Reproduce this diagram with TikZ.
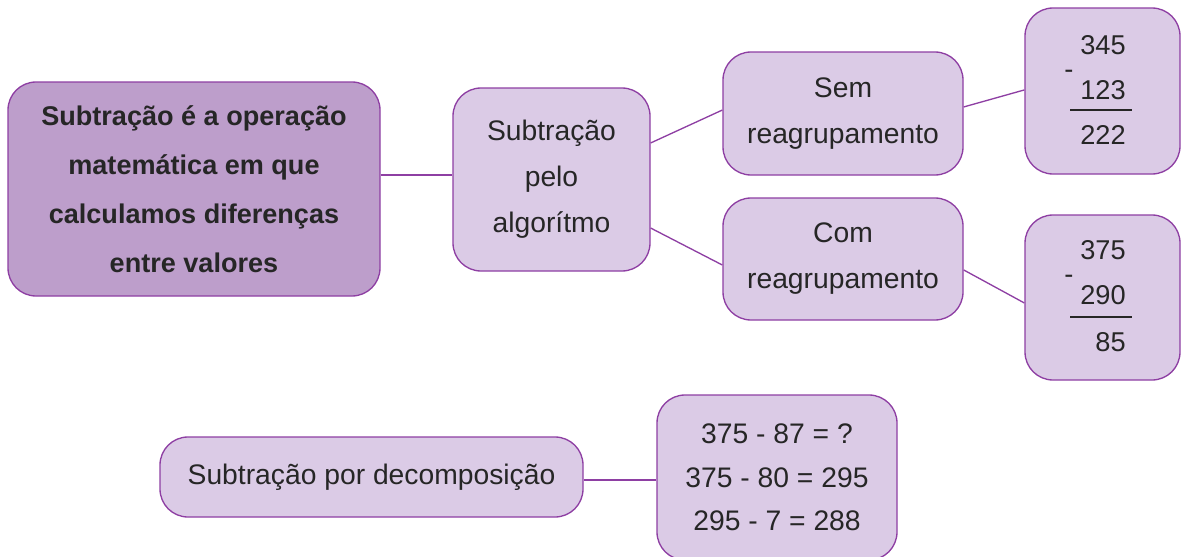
\documentclass[tikz,border=0pt]{standalone}
\usepackage{fontspec}
\setmainfont{Liberation Sans}
\usetikzlibrary{positioning}
\definecolor{boxfill}{HTML}{DBCBE6}
\definecolor{mainfill}{HTML}{BD9ECB}
\definecolor{edgepurple}{HTML}{8E3FA3}
\definecolor{inkgray}{HTML}{262626}

\begin{document}
\begin{tikzpicture}[x=0.75pt, y=-0.75pt,
    box/.style={draw=edgepurple, fill=boxfill, line width=1pt, rounded corners=21pt,
      align=center, text=inkgray, inner sep=0pt, font=\fontsize{21.2}{34.5}\selectfont},
    mainbox/.style={box, fill=mainfill, font=\bfseries\fontsize{20.3}{36.75}\selectfont},
    link/.style={draw=edgepurple, line width=1pt},
    num/.style={anchor=east, inner sep=0pt, text=inkgray, font=\fontsize{20.4}{21}\selectfont}]
    \useasboundingbox (0,0) rectangle (1182,557);

    \node[mainbox, minimum width=279pt, minimum height=160.5pt] (main) at (194,189)
        {Subtração é a operação\\matemática em que\\calculamos diferenças\\entre valores};
    \node[box, minimum width=147.75pt, minimum height=137.25pt] (algo) at (551.5,179.5)
        {Subtração\\pelo\\algorítmo};
    \node[box, minimum width=180pt, minimum height=92.25pt] (sem) at (843,113.5)
        {Sem\\reagrupamento};
    \node[box, minimum width=180pt, minimum height=91.5pt] (com) at (843,259)
        {Com\\reagrupamento};
    \node[box, minimum width=116.25pt, minimum height=124.5pt] (contaA) at (1102.5,91) {};
    \node[box, minimum width=116.25pt, minimum height=123.75pt] (contaB) at (1102.5,297.5) {};
    \node[box, minimum width=317.25pt, minimum height=60pt] (decomp) at (371.5,477)
        {Subtração por decomposição};
    \node[box, minimum width=180pt, minimum height=123.75pt,
          font=\fontsize{21.2}{32.6}\selectfont] (passos) at (777,477.5)
        {375 - 87 = ?\\375 - 80 = 295\\295 - 7 = 288};

    % conta armada sem reagrupamento
    \node[num] (a1) at (1126,45) {345};
    \node[num, anchor=base] (am) at (1069,78) {-};
    \node[num] (a2) at (1126,90) {123};
    \draw[inkgray, line width=1.1pt] (1070,110) -- (1132,110);
    \node[num] (a3) at (1126,135) {222};

    % conta armada com reagrupamento
    \node[num] (b1) at (1126,250) {375};
    \node[num, anchor=base] (bm) at (1069,283) {-};
    \node[num] (b2) at (1126,295) {290};
    \draw[inkgray, line width=1.1pt] (1070,317) -- (1132,317);
    \node[num] (b3) at (1126,342) {85};

    % ligacoes
    \draw[link] ([yshift=10.5pt]main.east) -- ([yshift=10.5pt]main.east -| algo.west);
    \draw[link] ([yshift=27.4pt]algo.east) -- ([yshift=2.6pt]sem.west);
    \draw[link] ([yshift=-36.4pt]algo.east) -- ([yshift=-4.5pt]com.west);
    \draw[link] ([yshift=4.9pt]sem.east) -- ([yshift=0.8pt]contaA.west);
    \draw[link] ([yshift=-8.2pt]com.east) -- ([yshift=-4.1pt]contaB.west);
    \draw[link] ([yshift=-2.3pt]decomp.east) -- ([yshift=-2.3pt]decomp.east -| passos.west);
\end{tikzpicture}
\end{document}
